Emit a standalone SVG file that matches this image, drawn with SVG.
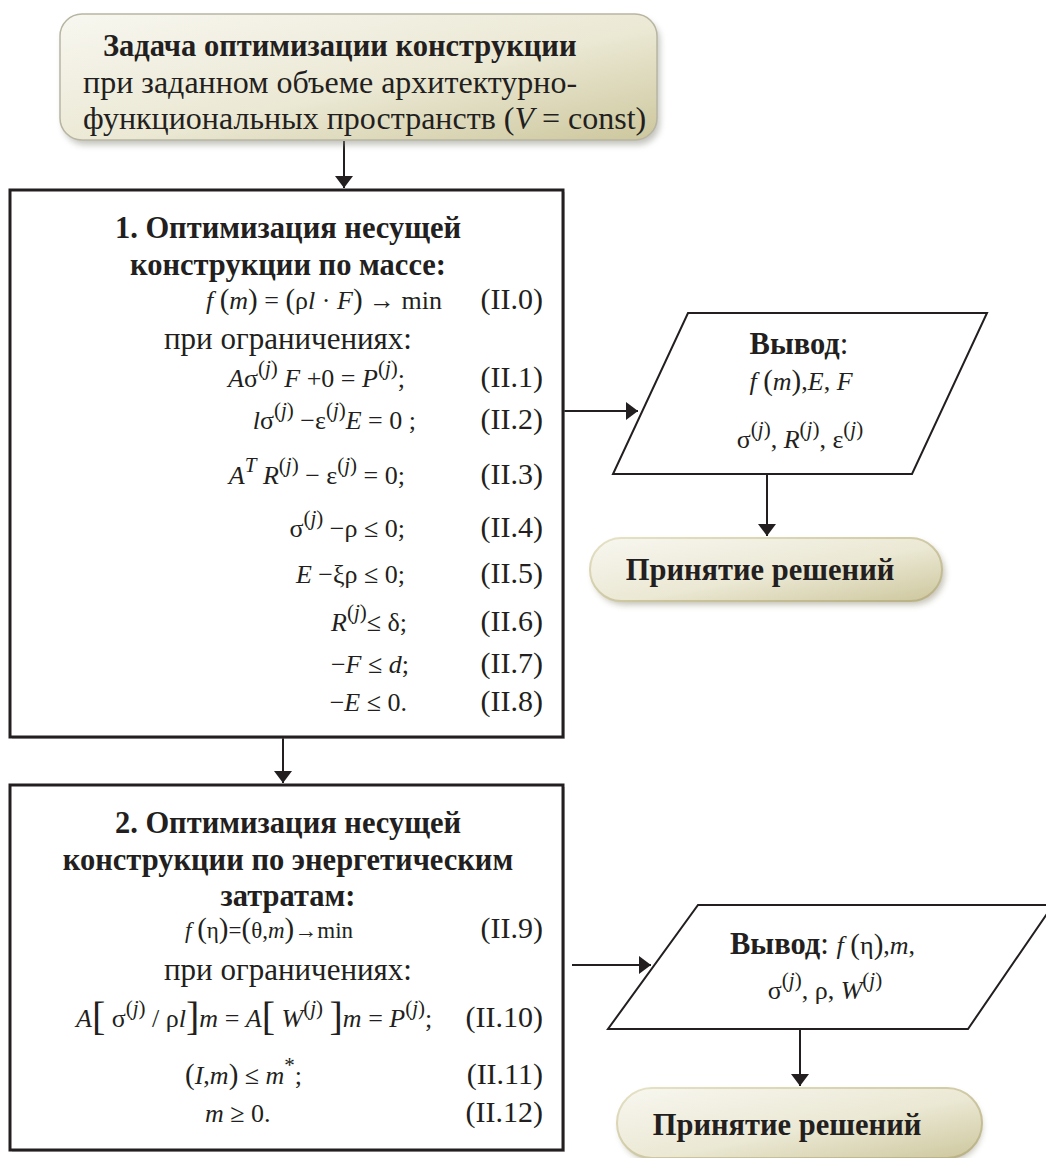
<svg xmlns="http://www.w3.org/2000/svg" width="1046" height="1158" viewBox="0 0 1046 1158">
<defs>
<style>
text{font-family:"Liberation Serif","Times New Roman",serif;fill:#231f20}
.b{font-weight:bold;font-size:30.5px}
.r{font-size:31px}
.rt{font-size:32px}
.f{font-size:26px}
.f2{font-size:23px}
.i{font-style:italic}
.s{font-size:21px}
.p{font-size:29px}
.k{font-size:40px}
.n{font-size:30px}
.box{fill:#fff;stroke:#231f20;stroke-width:3}
.sh{fill:#9a9a9a;opacity:.45}
.line{fill:none;stroke:#231f20;stroke-width:2}
.para{fill:#fff;stroke:#231f20;stroke-width:2}
</style>
<linearGradient id="g1" x1="0" y1="0" x2="1" y2="1">
<stop offset="0" stop-color="#f8f7f0"/>
<stop offset="0.55" stop-color="#ebe8d4"/>
<stop offset="1" stop-color="#cdc79d"/>
</linearGradient>
<linearGradient id="gs" x1="0" y1="0" x2="1" y2="1">
<stop offset="0" stop-color="#e6e2c6"/>
<stop offset="1" stop-color="#b9b184"/>
</linearGradient>
<filter id="blur" x="-10%" y="-10%" width="120%" height="130%"><feGaussianBlur stdDeviation="3"/></filter>
<marker id="arr" viewBox="0 0 12 18" refX="12" refY="9" markerWidth="12" markerHeight="18" markerUnits="userSpaceOnUse" orient="auto">
<path d="M0,0 L12,9 L0,18 Z" fill="#231f20"/>
</marker>
</defs>

<g id="connectors">
<line class="line" x1="344" y1="141" x2="344" y2="188" marker-end="url(#arr)"/>
<line class="line" x1="283" y1="737" x2="283" y2="783" marker-end="url(#arr)"/>
<line class="line" x1="563" y1="411" x2="638" y2="411" marker-end="url(#arr)"/>
<line class="line" x1="767" y1="474" x2="767" y2="536" marker-end="url(#arr)"/>
<line class="line" x1="572" y1="965" x2="651" y2="965" marker-end="url(#arr)"/>
<line class="line" x1="800" y1="1029" x2="800" y2="1086" marker-end="url(#arr)"/>
</g>

<g id="start">
<rect x="63" y="19" width="597" height="126" rx="22" fill="#8a8a80" opacity=".5" filter="url(#blur)"/>
<rect x="60" y="14" width="597" height="126" rx="22" fill="url(#g1)" stroke="#b8b5a2" stroke-width="1.5"/>
<text class="b" x="103" y="56">Задача оптимизации конструкции</text>
<text class="rt" x="83" y="93">при заданном объеме архитектурно-</text>
<text class="rt" x="83" y="129">функциональных пространств (<tspan class="i">V</tspan> = const)</text>
</g>

<g id="step1">
<rect class="sh" x="12" y="192" width="553" height="547"/>
<rect class="box" x="10" y="190" width="553" height="547"/>
<text class="b" x="288" y="238" text-anchor="middle">1. Оптимизация несущей</text>
<text class="b" x="288" y="275" text-anchor="middle">конструкции по массе:</text>
<text class="f" x="442" y="309" text-anchor="end"><tspan class="i">f</tspan> <tspan class="p">(</tspan><tspan class="i">m</tspan><tspan class="p">)</tspan> = <tspan class="p">(</tspan>ρ<tspan class="i">l</tspan> · <tspan class="i">F</tspan><tspan class="p">)</tspan> → min</text>
<text class="n" x="543" y="309" text-anchor="end">(II.0)</text>
<text class="r" x="288" y="349" text-anchor="middle">при ограничениях:</text>
<text class="f" x="405" y="387" text-anchor="end"><tspan class="i">A</tspan>σ<tspan class="s" dy="-12">(<tspan class="i">j</tspan>)</tspan><tspan dy="12"> </tspan><tspan class="i">F</tspan> +0 = <tspan class="i">P</tspan><tspan class="s" dy="-12">(<tspan class="i">j</tspan>)</tspan><tspan dy="12">;</tspan></text>
<text class="n" x="543" y="387" text-anchor="end">(II.1)</text>
<text class="f" x="416" y="429" text-anchor="end"><tspan class="i">l</tspan>σ<tspan class="s" dy="-12">(<tspan class="i">j</tspan>)</tspan><tspan dy="12"> −ε</tspan><tspan class="s" dy="-12">(<tspan class="i">j</tspan>)</tspan><tspan class="i" dy="12">E</tspan> = 0 ;</text>
<text class="n" x="543" y="429" text-anchor="end">(II.2)</text>
<text class="f" x="405" y="484" text-anchor="end"><tspan class="i">A</tspan><tspan class="s i" dy="-12">T</tspan><tspan dy="12"> </tspan><tspan class="i">R</tspan><tspan class="s" dy="-12">(<tspan class="i">j</tspan>)</tspan><tspan dy="12"> − ε</tspan><tspan class="s" dy="-12">(<tspan class="i">j</tspan>)</tspan><tspan dy="12"> = 0;</tspan></text>
<text class="n" x="543" y="484" text-anchor="end">(II.3)</text>
<text class="f" x="405" y="537" text-anchor="end">σ<tspan class="s" dy="-12">(<tspan class="i">j</tspan>)</tspan><tspan dy="12"> −ρ ≤ 0;</tspan></text>
<text class="n" x="543" y="537" text-anchor="end">(II.4)</text>
<text class="f" x="405" y="583" text-anchor="end"><tspan class="i">E</tspan> −ξρ ≤ 0;</text>
<text class="n" x="543" y="583" text-anchor="end">(II.5)</text>
<text class="f" x="407" y="631" text-anchor="end"><tspan class="i">R</tspan><tspan class="s" dy="-12">(<tspan class="i">j</tspan>)</tspan><tspan dy="12">≤ δ;</tspan></text>
<text class="n" x="543" y="631" text-anchor="end">(II.6)</text>
<text class="f" x="409" y="673" text-anchor="end">−<tspan class="i">F</tspan> ≤ <tspan class="i">d</tspan>;</text>
<text class="n" x="543" y="673" text-anchor="end">(II.7)</text>
<text class="f" x="407" y="711" text-anchor="end">−<tspan class="i">E</tspan> ≤ 0.</text>
<text class="n" x="543" y="711" text-anchor="end">(II.8)</text>
</g>

<g id="step2">
<rect class="sh" x="12" y="787" width="553" height="365"/>
<rect class="box" x="10" y="785" width="553" height="365"/>
<text class="b" x="288" y="833" text-anchor="middle">2. Оптимизация несущей</text>
<text class="b" x="288" y="870" text-anchor="middle">конструкции по энергетическим</text>
<text class="b" x="288" y="906" text-anchor="middle">затратам:</text>
<text class="f2" x="185" y="938"><tspan class="i">f</tspan> <tspan class="p">(</tspan>η<tspan class="p">)</tspan>=<tspan class="p">(</tspan>θ,<tspan class="i">m</tspan><tspan class="p">)</tspan>→min</text>
<text class="n" x="543" y="938" text-anchor="end">(II.9)</text>
<text class="r" x="288" y="980" text-anchor="middle">при ограничениях:</text>
<text class="f" x="76" y="1027"><tspan class="i">A</tspan><tspan class="k" dy="3">[</tspan><tspan dy="-3"> σ</tspan><tspan class="s" dy="-12">(<tspan class="i">j</tspan>)</tspan><tspan dy="12"> / ρ</tspan><tspan class="i">l</tspan><tspan class="k" dy="3">]</tspan><tspan class="i" dy="-3">m</tspan> = <tspan class="i">A</tspan><tspan class="k" dy="3">[</tspan><tspan dy="-3"> </tspan><tspan class="i">W</tspan><tspan class="s" dy="-12">(<tspan class="i">j</tspan>)</tspan><tspan dy="12"> </tspan><tspan class="k" dy="3">]</tspan><tspan class="i" dy="-3">m</tspan> = <tspan class="i">P</tspan><tspan class="s" dy="-12">(<tspan class="i">j</tspan>)</tspan><tspan dy="12">;</tspan></text>
<text class="n" x="543" y="1027" text-anchor="end">(II.10)</text>
<text class="f" x="185" y="1084"><tspan class="p">(</tspan><tspan class="i">I</tspan>,<tspan class="i">m</tspan><tspan class="p">)</tspan> ≤ <tspan class="i">m</tspan><tspan class="s" dy="-12">*</tspan><tspan dy="12">;</tspan></text>
<text class="n" x="543" y="1084" text-anchor="end">(II.11)</text>
<text class="f" x="205" y="1122"><tspan class="i">m</tspan> ≥ 0.</text>
<text class="n" x="543" y="1122" text-anchor="end">(II.12)</text>
</g>

<g id="output1">
<polygon class="para" points="688,313 987,313 912,474 613,474"/>
<text x="799" y="354" text-anchor="middle"><tspan class="b">Вывод</tspan><tspan class="r">:</tspan></text>
<text class="f" x="801" y="390" text-anchor="middle"><tspan class="i">f</tspan> <tspan class="p">(</tspan><tspan class="i">m</tspan><tspan class="p">)</tspan>,<tspan class="i">E</tspan>, <tspan class="i">F</tspan></text>
<text class="f" x="800" y="448" text-anchor="middle">σ<tspan class="s" dy="-12">(<tspan class="i">j</tspan>)</tspan><tspan dy="12">, </tspan><tspan class="i">R</tspan><tspan class="s" dy="-12">(<tspan class="i">j</tspan>)</tspan><tspan dy="12">, ε</tspan><tspan class="s" dy="-12">(<tspan class="i">j</tspan>)</tspan></text>
</g>

<g id="decision1">
<rect x="593" y="542" width="352" height="63" rx="31.5" fill="#7f7a60" opacity=".45" filter="url(#blur)"/>
<rect x="590" y="538" width="352" height="63" rx="31.5" fill="url(#g1)" stroke="url(#gs)" stroke-width="2"/>
<text class="b" x="760" y="580" text-anchor="middle">Принятие решений</text>
</g>

<g id="output2">
<polygon class="para" points="698,905 1053,905 968,1029 608,1029"/>
<text x="730" y="954"><tspan class="b">Вывод</tspan><tspan class="r">:  </tspan><tspan class="f i">f</tspan><tspan class="f"> </tspan><tspan class="p">(</tspan><tspan class="f">η</tspan><tspan class="p">)</tspan><tspan class="f">,</tspan><tspan class="f i">m</tspan><tspan class="f">,</tspan></text>
<text class="f" x="825" y="999" text-anchor="middle">σ<tspan class="s" dy="-12">(<tspan class="i">j</tspan>)</tspan><tspan dy="12">, ρ, </tspan><tspan class="i">W</tspan><tspan class="s" dy="-12">(<tspan class="i">j</tspan>)</tspan></text>
</g>

<g id="decision2">
<rect x="620" y="1092" width="362" height="70" rx="35" fill="#7f7a60" opacity=".45" filter="url(#blur)"/>
<rect x="617" y="1088" width="365" height="70" rx="35" fill="url(#g1)" stroke="url(#gs)" stroke-width="2"/>
<text class="b" x="787" y="1135" text-anchor="middle">Принятие решений</text>
</g>
</svg>
